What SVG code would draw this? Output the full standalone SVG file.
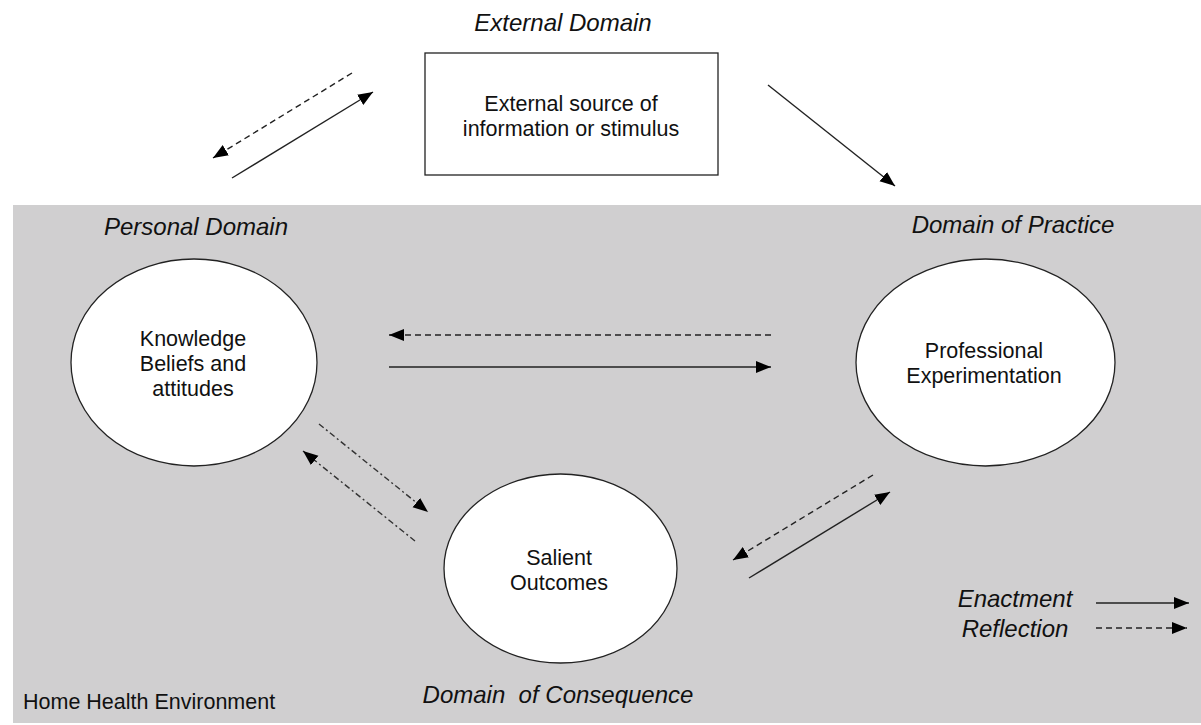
<svg xmlns="http://www.w3.org/2000/svg" width="1201" height="725" viewBox="0 0 1201 725">
<style>
.lbl{font-family:"Liberation Sans",Arial,sans-serif;font-size:21.5px;fill:#111;text-anchor:middle}
.ttl{font-family:"Liberation Sans",Arial,sans-serif;font-size:24px;font-style:italic;fill:#111;text-anchor:middle}
.node{fill:#fff;stroke:#222;stroke-width:1.3}
.solid{stroke:#222;stroke-width:1.4;fill:none;marker-end:url(#ah)}
.dash{stroke:#222;stroke-width:1.4;fill:none;stroke-dasharray:6,4;marker-end:url(#ah)}
.dashdot{stroke:#333;stroke-width:1.4;fill:none;stroke-dasharray:6,3,2,3;marker-end:url(#ah)}
</style>
<defs>
<marker id="ah" markerUnits="userSpaceOnUse" markerWidth="16" markerHeight="14" viewBox="0 0 16 14" refX="15" refY="6" orient="auto">
<path d="M0,0 L15,6 L0,12 z" fill="#000"/>
</marker>
</defs>
<rect x="0" y="0" width="1201" height="725" fill="#fff"/>
<rect id="environment" x="13" y="205" width="1188" height="518" fill="#d0cfd0"/>

<text class="ttl" x="563" y="31">External Domain</text>
<text class="ttl" x="196" y="235">Personal Domain</text>
<text class="ttl" x="1013" y="233">Domain of Practice</text>
<text class="ttl" x="558" y="703" xml:space="preserve">Domain  of Consequence</text>
<text class="lbl" x="23" y="709" style="text-anchor:start">Home Health Environment</text>

<g id="external">
<rect class="node" x="425" y="53" width="293" height="122"/>
<text class="lbl" x="571" y="111">External source of</text>
<text class="lbl" x="571" y="136">information or stimulus</text>
</g>
<g id="knowledge">
<ellipse class="node" cx="194" cy="362.5" rx="123" ry="103.5"/>
<text class="lbl" x="193" y="346">Knowledge</text>
<text class="lbl" x="193" y="371">Beliefs and</text>
<text class="lbl" x="193" y="396">attitudes</text>
</g>
<g id="professional">
<ellipse class="node" cx="985.5" cy="362.5" rx="129.5" ry="103.5"/>
<text class="lbl" x="984" y="358">Professional</text>
<text class="lbl" x="984" y="383">Experimentation</text>
</g>
<g id="salient">
<ellipse class="node" cx="560.5" cy="568.5" rx="116.5" ry="94.5"/>
<text class="lbl" x="559" y="565">Salient</text>
<text class="lbl" x="559" y="590">Outcomes</text>
</g>

<g id="connectors">
<line class="dash" x1="352" y1="73" x2="213" y2="158"/>
<line class="solid" x1="232" y1="178" x2="373" y2="92"/>
<line class="solid" x1="768" y1="85" x2="895" y2="186"/>
<line class="dash" x1="771" y1="335" x2="389" y2="335"/>
<line class="solid" x1="389" y1="367" x2="771" y2="367"/>
<line class="dashdot" x1="319" y1="424" x2="428" y2="512"/>
<line class="dashdot" x1="415" y1="541" x2="303" y2="451"/>
<line class="dash" x1="873" y1="475" x2="733" y2="560"/>
<line class="solid" x1="749" y1="578" x2="890" y2="492"/>
</g>

<g id="legend">
<text class="ttl" x="1015" y="607">Enactment</text>
<text class="ttl" x="1015" y="637">Reflection</text>
<line class="solid" x1="1096" y1="603" x2="1189" y2="603"/>
<line class="dash" x1="1096" y1="628" x2="1187" y2="628"/>
</g>
</svg>
